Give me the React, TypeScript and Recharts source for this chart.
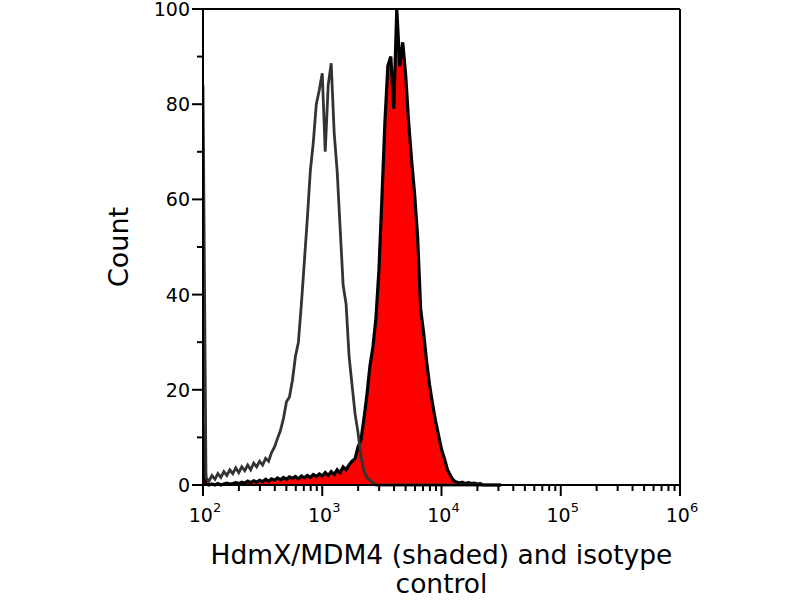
import React from 'react';
import { ComposedChart, Area, Line, XAxis, YAxis, ReferenceLine } from 'recharts';

// channel grid on the log10 axis: first bin at 10^2, one bin every 0.025 decade
const BIN_START = 2;
const BIN_STEP = 0.025;

// isotype control, counts per channel
const isotypeCounts = [
  84, 1.5, 0.8, 2, 1.2, 2.4, 1.6, 2.8, 2.0, 3.2,
  2.4, 3.6, 2.6, 3.8, 3.0, 4.2, 3.2, 4.6, 3.8, 5.0,
  4.2, 5.6, 5.0, 6.8, 8.0, 9.8, 11.5, 14, 17.5, 18.5,
  22, 27, 30, 38, 47, 56, 66, 72, 80, 83,
  86.5, 70, 84, 88.6, 74, 66, 54, 42, 38, 27,
  21, 15, 11, 6, 3, 1.5, 1, 0.5, 0, 0,
  0, 0, 0, 0, 0, 0, 0, 0, 0, 0,
  0, 0, 0, 0, 0, 0, 0, 0, 0, 0,
  0, 0, 0, 0, 0, 0, 0, 0, 0, 0,
  0, 0, 0, 0, 0, 0, 0, 0, 0, 0, 0,
];

// HdmX/MDM4 stained sample (shaded), counts per channel
const hdmxCounts = [
  13, 0.3, 0, 0.2, 0, 0.3, 0, 0.2, 0.4, 0.2,
  0.3, 0.5, 0.3, 0.6, 0.4, 0.8, 0.5, 0.9, 0.6, 1.0,
  0.7, 1.2, 0.8, 1.3, 1.0, 1.5, 1.1, 1.6, 1.2, 1.7,
  1.4, 1.8, 1.3, 1.9, 1.5, 2.0, 1.6, 2.2, 1.8, 2.3,
  1.9, 2.6, 2.0, 2.8, 2.2, 3.2, 2.6, 3.8, 3.2, 4.2,
  5.0, 5.5, 8, 9.5, 14, 19, 25, 29, 35, 45,
  60, 76, 88, 90, 79, 100, 88, 93, 86, 76,
  68, 61, 52, 37, 32, 26, 21, 17, 13.5, 10.5,
  7.5, 5.5, 3.2, 2, 1, 0.6, 0.4, 0.6, 0.3, 0.5,
  0.3, 0.4, 0.2, 0.3, 0, 0, 0, 0, 0, 0, 0,
];

const yTicks = [0, 10, 20, 30, 40, 50, 60, 70, 80, 90, 100];
const decades = [2, 3, 4, 5, 6];
const minorSteps = [2, 3, 4, 5, 6, 7, 8, 9];

const xTicks = [
  ...decades,
  ...decades.slice(0, -1).flatMap(d => minorSteps.map(k => d + Math.log10(k))),
].sort((a, b) => a - b);

const data = isotypeCounts.map((iso, i) => ({
  x: BIN_START + i * BIN_STEP,
  iso,
  hdmx: hdmxCounts[i],
}));

const FONT = '"DejaVu Sans", sans-serif';

function YTick({ x, y, payload }: any) {
  const major = payload.value % 20 === 0;
  return (
    <g>
      <line x1={x} x2={x - (major ? 11 : 6)} y1={y} y2={y} stroke="#000" strokeWidth={2} />
      {major && (
        <text x={x - 13} y={y} dy={7} textAnchor="end" fontSize={19} fontFamily={FONT} fill="#000">
          {payload.value}
        </text>
      )}
    </g>
  );
}

function XTick({ x, y, payload }: any) {
  const major = Math.abs(payload.value - Math.round(payload.value)) < 1e-9;
  return (
    <g>
      <line x1={x} x2={x} y1={y} y2={y + (major ? 11 : 6)} stroke="#000" strokeWidth={2} />
      {major && (
        <text x={x + 2} y={y + 37} textAnchor="middle" fontSize={19} fontFamily={FONT} fill="#000">
          10
          <tspan dy={-10} fontSize={13}>{Math.round(payload.value)}</tspan>
        </text>
      )}
    </g>
  );
}

function XLabel({ viewBox }: any) {
  const cx = viewBox.x + viewBox.width / 2;
  return (
    <text textAnchor="middle" fontSize={26.5} fontFamily={FONT} fill="#000">
      <tspan x={cx} y={564}>HdmX/MDM4 (shaded) and isotype</tspan>
      <tspan x={cx} y={593}>control</tspan>
    </text>
  );
}

function YLabel() {
  return (
    <text
      x={128}
      y={247}
      transform="rotate(-90 128 247)"
      textAnchor="middle"
      fontSize={27}
      fontFamily={FONT}
      fill="#000"
    >
      Count
    </text>
  );
}

export default function App() {
  return (
    <div style={{ position: 'absolute', left: 0, top: 0, width: 800, height: 600, background: '#fff' }}>
      <ComposedChart width={800} height={600} data={data} margin={{ top: 9, right: 120, bottom: 0, left: 0 }}>
        <XAxis
          dataKey="x"
          type="number"
          domain={[2, 6]}
          allowDataOverflow
          ticks={xTicks}
          interval={0}
          tickSize={0}
          tickMargin={0}
          tick={<XTick />}
          height={115}
          axisLine={{ stroke: '#000', strokeWidth: 2 }}
          label={<XLabel />}
        />
        <YAxis
          type="number"
          domain={[0, 100]}
          ticks={yTicks}
          interval={0}
          tickSize={0}
          tickMargin={0}
          tick={<YTick />}
          width={203}
          axisLine={{ stroke: '#000', strokeWidth: 2 }}
          label={<YLabel />}
        />
        <ReferenceLine y={100} stroke="#000" strokeWidth={2} />
        <ReferenceLine x={6} stroke="#000" strokeWidth={2} />
        <Line
          dataKey="iso"
          type="linear"
          stroke="#333333"
          strokeWidth={2.8}
          dot={false}
          isAnimationActive={false}
        />
        <Area
          dataKey="hdmx"
          type="linear"
          stroke="#000"
          strokeWidth={3.2}
          fill="#ff0000"
          fillOpacity={1}
          isAnimationActive={false}
        />
      </ComposedChart>
    </div>
  );
}
